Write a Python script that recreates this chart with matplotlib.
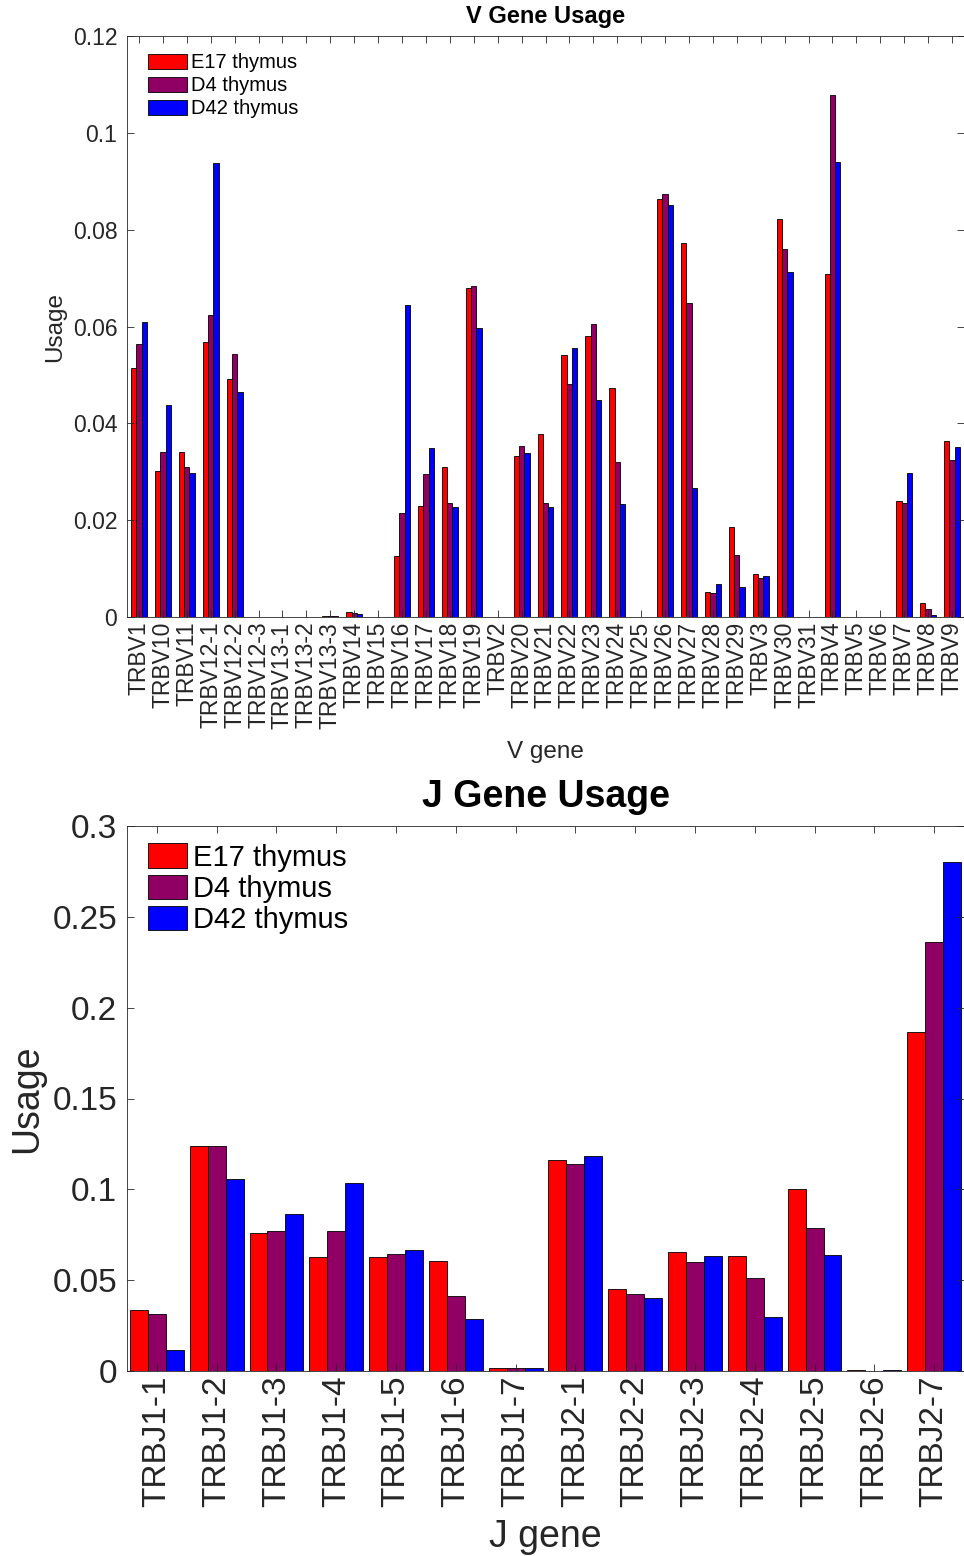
import numpy as np
import matplotlib
matplotlib.use("Agg")
import matplotlib.pyplot as plt
from matplotlib.ticker import FormatStrFormatter

plt.rcParams['font.family'] = ['Liberation Sans', 'DejaVu Sans']

# V gene usage
v_genes = ["TRBV1", "TRBV10", "TRBV11", "TRBV12-1", "TRBV12-2", "TRBV12-3", "TRBV13-1",
           "TRBV13-2", "TRBV13-3", "TRBV14", "TRBV15", "TRBV16", "TRBV17", "TRBV18",
           "TRBV19", "TRBV2", "TRBV20", "TRBV21", "TRBV22", "TRBV23", "TRBV24", "TRBV25",
           "TRBV26", "TRBV27", "TRBV28", "TRBV29", "TRBV3", "TRBV30", "TRBV31", "TRBV4",
           "TRBV5", "TRBV6", "TRBV7", "TRBV8", "TRBV9"]
v_e17 = [0.0515, 0.0301, 0.0341, 0.0569, 0.0491, 0.0001, 0.0001, 0.0001, 0.0002, 0.0011,
         0.0001, 0.0126, 0.0229, 0.0309, 0.0680, 0.0001, 0.0333, 0.0379, 0.0542, 0.0581,
         0.0472, 0.0001, 0.0864, 0.0773, 0.0052, 0.0185, 0.0089, 0.0821, 0.0001, 0.0709,
         0.0001, 0.0001, 0.0239, 0.0029, 0.0364]
v_d4 = [0.0563, 0.0341, 0.0310, 0.0623, 0.0544, 0.0001, 0.0001, 0.0001, 0.0002, 0.0008,
        0.0001, 0.0214, 0.0296, 0.0235, 0.0684, 0.0001, 0.0353, 0.0235, 0.0482, 0.0605,
        0.0320, 0.0001, 0.0873, 0.0649, 0.0049, 0.0128, 0.0080, 0.0760, 0.0001, 0.1078,
        0.0001, 0.0001, 0.0236, 0.0016, 0.0324]
v_d42 = [0.0609, 0.0438, 0.0298, 0.0937, 0.0464, 0.0001, 0.0001, 0.0001, 0.0002, 0.0006,
         0.0001, 0.0644, 0.0349, 0.0228, 0.0597, 0.0001, 0.0338, 0.0228, 0.0556, 0.0448,
         0.0233, 0.0001, 0.0850, 0.0266, 0.0069, 0.0061, 0.0084, 0.0712, 0.0001, 0.0940,
         0.0001, 0.0001, 0.0297, 0.0004, 0.0352]

# J gene usage
j_genes = ["TRBJ1-1", "TRBJ1-2", "TRBJ1-3", "TRBJ1-4", "TRBJ1-5", "TRBJ1-6", "TRBJ1-7",
           "TRBJ2-1", "TRBJ2-2", "TRBJ2-3", "TRBJ2-4", "TRBJ2-5", "TRBJ2-6", "TRBJ2-7"]
j_e17 = [0.0337, 0.1236, 0.0760, 0.0627, 0.0625, 0.0608, 0.0019,
         0.1164, 0.0453, 0.0655, 0.0632, 0.1004, 0.0006, 0.1865]
j_d4 = [0.0312, 0.1236, 0.0768, 0.0773, 0.0642, 0.0415, 0.0017,
        0.1139, 0.0423, 0.0600, 0.0514, 0.0789, 0.0002, 0.2364]
j_d42 = [0.0114, 0.1057, 0.0865, 0.1036, 0.0665, 0.0288, 0.0017,
         0.1183, 0.0400, 0.0632, 0.0295, 0.0636, 0.0008, 0.2800]

samples = ["E17 thymus", "D4 thymus", "D42 thymus"]
colors = ["#ff0000", "#900064", "#0000ff"]
axcol = "#262626"


def grouped_bars(ax, labels, series, bar_w, ylim, yticks, fs_tick, fs_lab, fs_title,
                 fs_leg, title, xlabel, leg_h, leg_len, title_pad, xlab_pad, ylab_pad,
                 leg_y, leg_sp):
    x = np.arange(1, len(labels) + 1)
    for k, (vals, c, name) in enumerate(zip(series, colors, samples)):
        ax.bar(x + (k - 1) * bar_w, vals, width=bar_w, color=c, edgecolor="black",
               linewidth=0.6, label=name)
    ax.set_xlim(0.5, len(labels) + 0.5)
    ax.set_ylim(*ylim)
    ax.set_xticks(x)
    ax.set_xticklabels(labels, rotation=90, fontsize=fs_tick, color=axcol)
    ax.set_yticks(yticks)
    ax.yaxis.set_major_formatter(FormatStrFormatter("%g"))
    ax.tick_params(axis="y", labelsize=fs_tick, labelcolor=axcol, pad=7)
    ax.tick_params(direction="in", top=True, right=True, length=5, width=0.6,
                   color=axcol)
    for s in ax.spines.values():
        s.set_color(axcol)
        s.set_linewidth(0.6)
    ax.set_title(title, fontsize=fs_title, fontweight="bold", pad=title_pad)
    ax.set_xlabel(xlabel, fontsize=fs_lab, color=axcol, labelpad=xlab_pad)
    ax.set_ylabel("Usage", fontsize=fs_lab, color=axcol, labelpad=ylab_pad)
    ax.legend(loc="upper left", bbox_to_anchor=(0.025, leg_y), frameon=False,
              fontsize=fs_leg, borderaxespad=0, borderpad=0, labelspacing=leg_sp,
              handlelength=leg_len, handleheight=leg_h, handletextpad=0.2)


fig = plt.figure(figsize=(9.64, 15.56), dpi=100)

ax1 = fig.add_axes([127 / 964, 1 - 617 / 1556, 837 / 964, 581 / 1556])
grouped_bars(ax1, v_genes, [v_e17, v_d4, v_d42], 0.222, (0, 0.12),
             [0, 0.02, 0.04, 0.06, 0.08, 0.1, 0.12], 16.5, 17.5, 17, 14.5,
             "V Gene Usage", "V gene", 0.8, 1.95, 9, 9, 5, 0.97, 0.2)

ax2 = fig.add_axes([127 / 964, 1 - 1371 / 1556, 837 / 964, 545 / 1556])
grouped_bars(ax2, j_genes, [j_e17, j_d4, j_d42], 0.3, (0, 0.3),
             [0, 0.05, 0.1, 0.15, 0.2, 0.25, 0.3], 24, 27, 27, 21,
             "J Gene Usage", "J gene", 0.9, 1.35, 14, 8, 5, 0.968, 0.1)

fig.savefig("out.png", dpi=100)
